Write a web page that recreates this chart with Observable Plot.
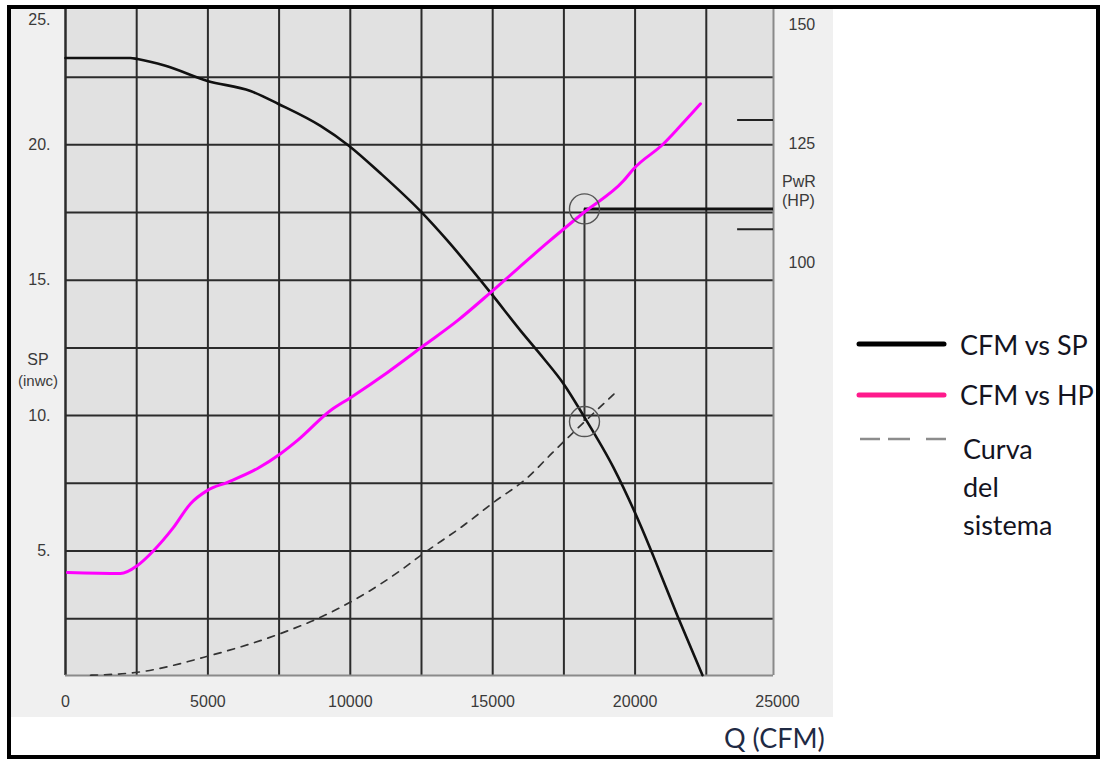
<!DOCTYPE html>
<html>
<head>
<meta charset="utf-8">
<script src="https://cdn.jsdelivr.net/npm/d3@7"></script>
<script src="https://cdn.jsdelivr.net/npm/@observablehq/plot@0.6"></script>
<style>
  html, body { margin: 0; padding: 0; background: #ffffff; width: 1106px; height: 759px; overflow: hidden; }
  #frame { position: absolute; left: 7px; top: 5px; width: 1093px; height: 754px; border: 4px solid #000; box-sizing: border-box; }
  #panel { position: absolute; left: 11px; top: 9px; width: 822px; height: 708px; background: #f0f0f0; }
  #chart { position: absolute; left: 0; top: 0; }
  .lg { position: absolute; font-family: Lato, "Open Sans", sans-serif; font-size: 27px; color: #14141f; line-height: 1; }
  #qlabel { position: absolute; left: 724px; top: 721px; font-family: Lato, "Open Sans", sans-serif; font-size: 27px; color: #1f2a44; }
  .side { position: absolute; font-family: "Liberation Sans", Arial, sans-serif; color: #3a3a3a; line-height: 1; text-align: center; }
</style>
</head>
<body>
<div id="panel"></div>
<div id="chart"></div>
<div id="frame"></div>
<svg id="legend" width="1106" height="759" style="position:absolute;left:0;top:0;pointer-events:none"></svg>
<div class="side" style="left:20px;top:352px;font-size:16px;width:36px">SP</div>
<div class="side" style="left:10px;top:373px;font-size:15px;width:56px">(inwc)</div>
<div class="side" style="left:782px;top:174px;font-size:16px;text-align:left">PwR</div>
<div class="side" style="left:782px;top:193px;font-size:16px;text-align:left">(HP)</div>
<div class="lg" style="left:960px;top:331px">CFM vs SP</div>
<div class="lg" style="left:960px;top:381px">CFM vs HP</div>
<div class="lg" style="left:963px;top:435px">Curva</div>
<div class="lg" style="left:963px;top:473px">del</div>
<div class="lg" style="left:963px;top:511px">sistema</div>
<div id="qlabel">Q (CFM)</div>
<script>
// ---- data ----
const qTicks = [0, 5000, 10000, 15000, 20000, 25000];
const spTicks = [5, 10, 15, 20];
const spTopTick = 25;
const hpTicks = [100, 125, 150];
const qGrid = [2500, 5000, 7500, 10000, 12500, 15000, 17500, 20000, 22500];
const spGrid = [2.5, 5, 7.5, 10, 12.5, 15, 17.5, 20, 22.5];

// CFM vs SP (fan curve)
const spQ   = [0, 2282, 2528, 3511, 4986, 6496, 7479, 8954, 9937, 11060, 12465, 13413, 14923, 15976, 16784, 17486, 18188, 19242, 20190, 20646, 21489, 22367];
const spVal = [23.21, 23.21, 23.17, 22.92, 22.36, 21.99, 21.51, 20.70, 19.98, 18.95, 17.55, 16.46, 14.54, 13.14, 12.12, 11.18, 10.0, 8.08, 5.95, 4.80, 2.60, 0.41];

// CFM vs HP (power curve)
const hpQ   = [70, 1931, 2528, 3090, 3792, 4389, 4986, 5688, 6742, 7549, 8146, 9305, 10007, 11306, 12570, 13764, 14923, 15871, 16924, 18188, 19593, 19944, 20997, 21489, 22297];
const hpVal = [34.8, 34.6, 36.3, 39.4, 44.3, 49.3, 52.1, 53.8, 56.7, 59.8, 62.6, 68.9, 71.6, 76.9, 82.5, 87.8, 93.7, 98.7, 104.2, 110.5, 117.2, 119.7, 125.0, 128.1, 133.4];

// Curva del sistema
const sysQ   = [878, 2528, 5091, 7549, 8954, 11763, 12465, 13975, 15028, 16222, 17100, 19312];
const sysVal = [0.41, 0.52, 1.14, 1.95, 2.55, 4.28, 4.83, 5.94, 6.79, 7.71, 8.63, 10.85];

// operating point and HP marks on the right
const opQ = 18223, opSP = 9.78, opHP = 111.3;
const hpMarks = [107, 130];
const hpMarkFrom = 23600;

// ---- scales ----
const xMax = 24860;
const yMin = 0.4, yMax = 25;
const hpToSp = hp => 20.04 + (hp - 125) * 0.1756;
const spToHp = sp => 125 + (sp - 20.04) / 0.1756;

const spData  = spQ.map((q, i) => ({q, v: spVal[i]}));
const hpData  = hpQ.map((q, i) => ({q, v: hpToSp(hpVal[i])}));
const sysData = sysQ.map((q, i) => ({q, v: sysVal[i]}));

const gridColor = "#2b2b2b";
const tickColor = "#3a3a3a";

const chart = Plot.plot({
  width: 840,
  height: 720,
  marginLeft: 65,
  marginRight: 67,
  marginTop: 9,
  marginBottom: 45,
  style: {background: "transparent", fontFamily: "'Liberation Sans', Arial, sans-serif", fontSize: "16px", color: tickColor},
  x: {domain: [0, xMax], axis: null},
  y: {domain: [yMin, yMax], axis: null},
  marks: [
    Plot.frame({fill: "#e1e1e1", stroke: null}),
    Plot.ruleX(qGrid, {stroke: gridColor, strokeWidth: 2}),
    Plot.ruleY(spGrid, {stroke: gridColor, strokeWidth: 2}),
    Plot.ruleX([0], {stroke: gridColor, strokeWidth: 2.5}),
    Plot.ruleX([xMax], {stroke: "#8a8a8a", strokeWidth: 2}),
    Plot.ruleY([yMin], {stroke: "#8a8a8a", strokeWidth: 2}),
    // HP marks at the right edge
    Plot.ruleY(hpMarks, {y: d => hpToSp(d), x1: hpMarkFrom, x2: xMax, stroke: "#222", strokeWidth: 2}),
    // system curve
    Plot.line(sysData, {x: "q", y: "v", curve: "monotone-x", stroke: "#333", strokeWidth: 1.7, strokeDasharray: "7,7"}),
    // operating point lines
    Plot.ruleX([opQ], {y1: opSP, y2: hpToSp(opHP), stroke: "#333", strokeWidth: 2}),
    Plot.ruleY([hpToSp(opHP)], {x1: opQ, x2: xMax, stroke: "#111", strokeWidth: 3}),
    // curves
    Plot.line(spData, {x: "q", y: "v", curve: "monotone-x", stroke: "#111", strokeWidth: 2.6}),
    Plot.line(hpData, {x: "q", y: "v", curve: "monotone-x", stroke: "#ff00ff", strokeWidth: 3}),
    // circles at operating point
    Plot.dot([{q: opQ, v: hpToSp(opHP)}, {q: opQ, v: opSP}], {x: "q", y: "v", r: 15, stroke: "#555", strokeWidth: 1.4, fill: "none"}),
    // axes
    Plot.axisX(qTicks, {anchor: "bottom", label: null, tickSize: 0, tickPadding: 20, fontSize: 16, tickFormat: d => String(d), fill: tickColor}),
    Plot.axisY(spTicks, {anchor: "left", label: null, tickSize: 0, tickPadding: 15, fontSize: 16, tickFormat: d => d + ".", fill: tickColor}),
    Plot.text([spTopTick], {x: 0, y: d => d, text: d => d + ".", textAnchor: "end", dx: -15, dy: 10, fontSize: 16, fill: tickColor}),
    Plot.axisY(hpTicks.map(hpToSp), {anchor: "right", label: null, tickSize: 0, tickPadding: 15, fontSize: 16, tickFormat: d => String(Math.round(spToHp(d))), fill: tickColor})
  ]
});
document.getElementById("chart").appendChild(chart);

// legend swatches
const lg = d3.select("#legend");
lg.append("line").attr("x1", 859).attr("x2", 944).attr("y1", 344).attr("y2", 344)
  .attr("stroke", "#000").attr("stroke-width", 5).attr("stroke-linecap", "round");
lg.append("line").attr("x1", 859).attr("x2", 944).attr("y1", 395).attr("y2", 395)
  .attr("stroke", "#ff1a8c").attr("stroke-width", 5).attr("stroke-linecap", "round");
lg.append("line").attr("x1", 860).attr("x2", 948).attr("y1", 439).attr("y2", 439)
  .attr("stroke", "#8c8c8c").attr("stroke-width", 2.5).attr("stroke-dasharray", "20,8,22,16,20");
</script>
</body>
</html>
